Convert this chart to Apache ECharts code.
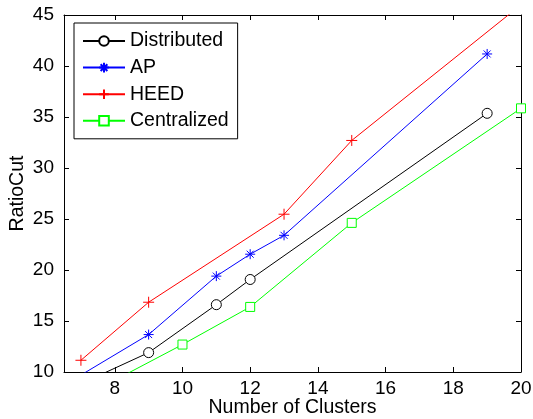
<!DOCTYPE html>
<html>
<head>
<meta charset="utf-8">
<script src="https://cdn.jsdelivr.net/npm/echarts@6/dist/echarts.min.js"></script>
<style>
    html, body { margin: 0; padding: 0; background: #fff; }
    #main { width: 533px; height: 419px; }
</style>
</head>
<body>
<div id="main"></div>
<script>
// data
var xTicks = [8, 10, 12, 14, 16, 18, 20];
var yTicks = [10, 15, 20, 25, 30, 35, 40, 45];

var distX = [7, 9, 11, 12, 19];
var distY = [8.85, 11.9, 16.6, 19.07, 35.36];
var apX = [7, 9, 11, 12, 13, 19];
var apY = [9.7, 13.67, 19.4, 21.55, 23.4, 41.18];
var heedX = [7, 9, 13, 15, 20];
var heedY = [11.15, 16.84, 25.47, 32.7, 46];
var centX = [8, 10, 12, 15, 20];
var centY = [9.2, 12.69, 16.38, 24.62, 35.85];

function pairs(xs, ys) {
    var out = [];
    for (var i = 0; i < xs.length; i++) {
        out.push([xs[i], ys[i]]);
    }
    return out;
}

var FONT = '"Liberation Sans", Arial, sans-serif';
var starPath = 'path://M0,-1L0,1M-1,0L1,0M-0.7,-0.7L0.7,0.7M-0.7,0.7L0.7,-0.7';
var plusPath = 'path://M0,-1L0,1M-1,0L1,0';

var chart = echarts.init(document.getElementById('main'));
var option = {
    animation: false,
    backgroundColor: '#fff',
    textStyle: { fontFamily: FONT },
    grid: {
        left: 64,
        right: 12,
        top: 15,
        bottom: 47,
        containLabel: false,
        outerBoundsMode: 'none'
    },
    legend: {
        orient: 'vertical',
        left: 74,
        top: 23,
        padding: [8, 9, 8, 8],
        backgroundColor: '#fff',
        borderColor: '#000',
        borderWidth: 1,
        itemWidth: 42,
        itemHeight: 12,
        itemGap: 6.6,
        textStyle: {
            color: '#000',
            fontSize: 19.5,
            lineHeight: 19,
            fontFamily: FONT
        },
        data: ['Distributed', 'AP', 'HEED', 'Centralized']
    },
    xAxis: [
        {
            type: 'value',
            min: 6.5,
            max: 20,
            name: 'Number of Clusters',
            nameLocation: 'middle',
            nameGap: 26,
            nameMoveOverlap: false,
            nameTextStyle: { color: '#000', fontSize: 19.5, fontFamily: FONT },
            axisLine: { onZero: false, lineStyle: { color: '#000', width: 1 } },
            axisTick: { inside: true, length: 5, customValues: xTicks, lineStyle: { color: '#000' } },
            axisLabel: { customValues: xTicks, color: '#000', fontSize: 19, margin: 7, fontFamily: FONT },
            splitLine: { show: false }
        },
        {
            type: 'value',
            position: 'top',
            min: 6.5,
            max: 20,
            axisLine: { onZero: false, lineStyle: { color: '#000', width: 1 } },
            axisTick: { inside: true, length: 5, customValues: xTicks, lineStyle: { color: '#000' } },
            axisLabel: { show: false },
            splitLine: { show: false }
        }
    ],
    yAxis: [
        {
            type: 'value',
            min: 10,
            max: 45,
            interval: 5,
            name: 'RatioCut',
            nameLocation: 'middle',
            nameGap: 36,
            nameMoveOverlap: false,
            nameTextStyle: { color: '#000', fontSize: 19.5, fontFamily: FONT },
            axisLine: { show: true, onZero: false, lineStyle: { color: '#000', width: 1 } },
            axisTick: { show: true, inside: true, length: 5, lineStyle: { color: '#000' } },
            axisLabel: { color: '#000', fontSize: 19, margin: 10, fontFamily: FONT },
            splitLine: { show: false }
        },
        {
            type: 'value',
            position: 'right',
            min: 10,
            max: 45,
            interval: 5,
            axisLine: { show: true, onZero: false, lineStyle: { color: '#000', width: 1 } },
            axisTick: { show: true, inside: true, length: 5, lineStyle: { color: '#000' } },
            axisLabel: { show: false },
            splitLine: { show: false }
        }
    ],
    series: [
        {
            name: 'Distributed',
            type: 'line',
            data: pairs(distX, distY),
            symbol: 'circle',
            symbolSize: 10,
            clip: true,
            itemStyle: { color: '#fff', borderColor: '#000', borderWidth: 1 },
            lineStyle: { color: '#000', width: 1 },
            emphasis: { disabled: true }
        },
        {
            name: 'AP',
            type: 'line',
            data: pairs(apX, apY),
            symbol: starPath,
            symbolSize: 10,
            clip: true,
            itemStyle: { color: '#0000ff', borderColor: '#0000ff', borderWidth: 1 },
            lineStyle: { color: '#0000ff', width: 1 },
            emphasis: { disabled: true }
        },
        {
            name: 'HEED',
            type: 'line',
            data: pairs(heedX, heedY),
            symbol: plusPath,
            symbolSize: 11,
            clip: true,
            itemStyle: { color: '#ff0000', borderColor: '#ff0000', borderWidth: 1 },
            lineStyle: { color: '#ff0000', width: 1 },
            emphasis: { disabled: true }
        },
        {
            name: 'Centralized',
            type: 'line',
            data: pairs(centX, centY),
            symbol: 'rect',
            symbolSize: 9,
            clip: true,
            itemStyle: { color: '#fff', borderColor: '#00ff00', borderWidth: 1 },
            lineStyle: { color: '#00ff00', width: 1 },
            emphasis: { disabled: true }
        }
    ]
};
chart.setOption(option);
</script>
</body>
</html>
